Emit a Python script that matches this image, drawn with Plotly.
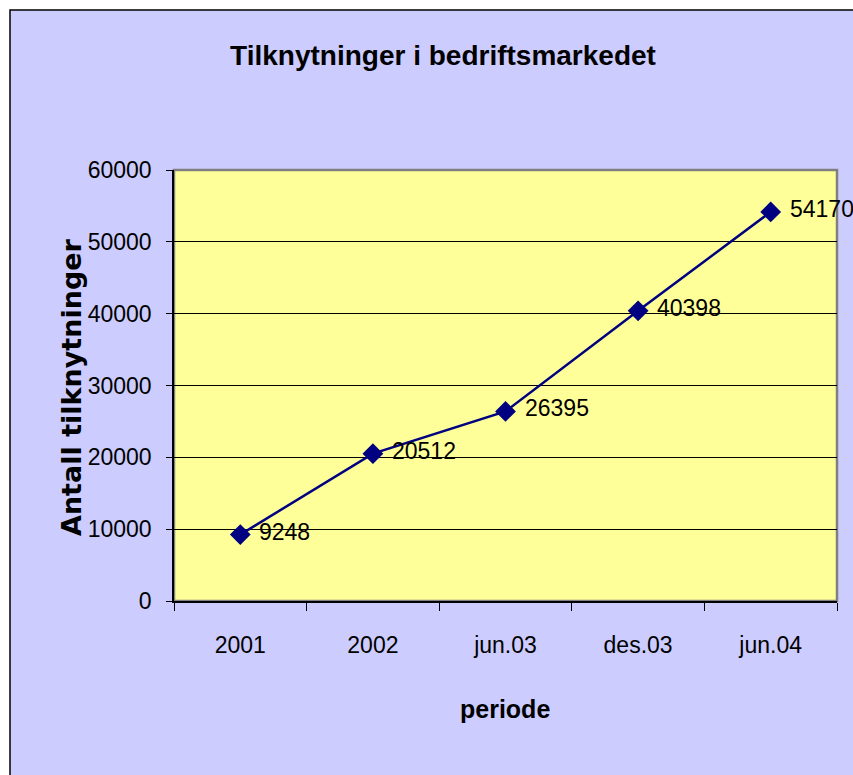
import plotly.graph_objects as go

categories = ["2001", "2002", "jun.03", "des.03", "jun.04"]
values = [9248, 20512, 26395, 40398, 54170]
y_ticks = [0, 10000, 20000, 30000, 40000, 50000, 60000]

title_text = "Tilknytninger i bedriftsmarkedet"
x_title = "periode"
y_title = "Antall tilknytninger"

SANS = "Liberation Sans, Arial, sans-serif"
WIDE = "DejaVu Sans, Verdana, sans-serif"

W, H = 853, 775
ML, MR, MT, MB = 174, 16, 170, 174
PW = W - ML - MR
PH = H - MT - MB


def px_x(px):
    return (px - ML) / PW


def px_y(py):
    return (H - MB - py) / PH


fig = go.Figure()
fig.add_trace(go.Scatter(
    x=categories, y=values, mode="lines+markers",
    line=dict(color="#000080", width=2.5),
    marker=dict(symbol="diamond", size=16, color="#000080"),
    hoverinfo="x+y", showlegend=False,
))

annotations = []
for i, v in enumerate(values):
    annotations.append(dict(
        x=i, y=v, xref="x", yref="y", text=str(v), showarrow=False,
        xanchor="left", yanchor="middle", xshift=17, yshift=3,
        font=dict(family=SANS, size=23, color="black"),
    ))

annotations.append(dict(
    x=px_x(505), y=px_y(709), xref="paper", yref="paper", text=x_title,
    showarrow=False, xanchor="center", yanchor="middle",
    font=dict(family=SANS, size=25, color="black", weight="bold"),
))
annotations.append(dict(
    x=px_x(71), y=px_y(387), xref="paper", yref="paper", text=y_title,
    showarrow=False, xanchor="center", yanchor="middle", textangle=-90,
    font=dict(family=WIDE, size=27, color="black", weight="bold"),
))

shapes = [
    dict(type="rect", xref="paper", yref="paper", layer="below",
         x0=px_x(10), x1=px_x(870), y0=px_y(10), y1=px_y(800),
         fillcolor="#CCCCFF", line=dict(color="black", width=1.5)),
    dict(type="rect", xref="paper", yref="paper", layer="below",
         x0=0, x1=1, y0=0, y1=1,
         fillcolor="#FFFF99", line=dict(color="#808080", width=2.5)),
]

fig.update_layout(
    width=W, height=H,
    margin=dict(l=ML, r=MR, t=MT, b=MB, pad=0),
    paper_bgcolor="white",
    plot_bgcolor="rgba(0,0,0,0)",
    title=dict(text=title_text, x=443 / W, xanchor="center",
               y=1 - 55 / H, yanchor="middle", xref="container", yref="container",
               font=dict(family=SANS, size=28, color="black", weight="bold")),
    xaxis=dict(
        type="category", range=[-0.5, 4.5],
        showline=True, linecolor="black", linewidth=1.5,
        ticks="outside", tickson="boundaries", ticklen=8, tickcolor="black", tickwidth=1,
        showgrid=False, zeroline=False,
        tickfont=dict(family=SANS, size=23, color="black"),
        ticklabelstandoff=23,
    ),
    yaxis=dict(
        range=[0, 60000], tickvals=y_ticks, ticktext=[str(t) for t in y_ticks],
        showline=True, linecolor="black", linewidth=1.5,
        ticks="outside", ticklen=6, tickcolor="black", tickwidth=1,
        showgrid=True, gridcolor="black", gridwidth=1, zeroline=False,
        tickfont=dict(family=SANS, size=23, color="black"),
        ticklabelstandoff=10,
    ),
    annotations=annotations,
    shapes=shapes,
)

fig.write_html(
    "out.html",
    config={"displayModeBar": False},
    post_script="document.body.style.margin='0';document.body.style.overflow='hidden';",
)
